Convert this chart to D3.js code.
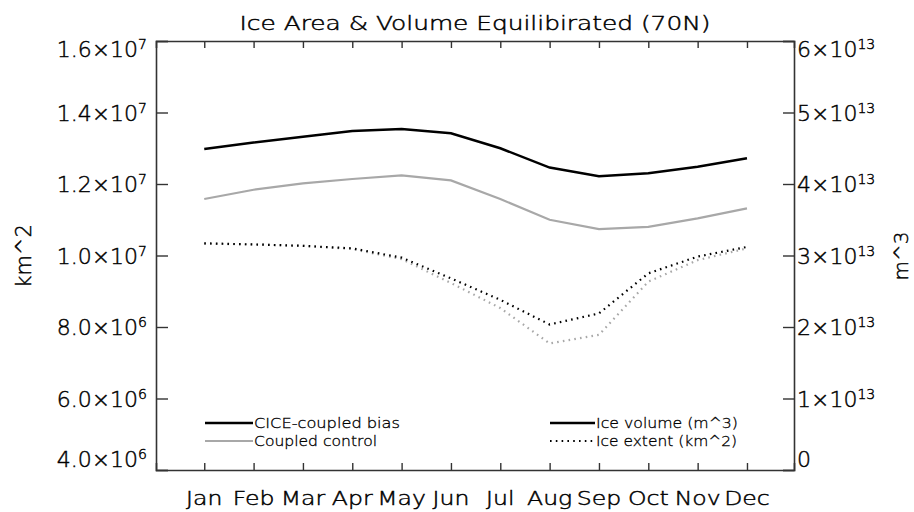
<!DOCTYPE html>
<html><head><meta charset="utf-8">
<script src="https://cdn.jsdelivr.net/npm/d3@7/dist/d3.min.js"></script>
<style>body{margin:0;background:#fff}text{font-family:"DejaVu Sans",sans-serif;font-weight:200;fill:#000;stroke:#000;stroke-width:0.45}</style>
</head><body>
<svg id="c" width="914" height="512"></svg>
<script>
// ---------- data ----------
const months = ["Jan","Feb","Mar","Apr","May","Jun","Jul","Aug","Sep","Oct","Nov","Dec"];
// Ice volume (m^3), right axis
const volumeBias    = [4.49e13,4.58e13,4.66e13,4.74e13,4.77e13,4.71e13,4.50e13,4.23e13,4.11e13,4.15e13,4.24e13,4.36e13];
const volumeControl = [3.79e13,3.92e13,4.01e13,4.07e13,4.12e13,4.05e13,3.79e13,3.50e13,3.37e13,3.40e13,3.52e13,3.66e13];
// Ice extent (km^2), left axis
const extentBias    = [1.034e7,1.031e7,1.027e7,1.020e7,0.994e7,0.936e7,0.876e7,0.807e7,0.838e7,0.950e7,0.997e7,1.024e7];
const extentControl = [1.033e7,1.031e7,1.027e7,1.018e7,0.990e7,0.923e7,0.853e7,0.754e7,0.778e7,0.927e7,0.987e7,1.020e7];
const leftTicks  = [4e6,6e6,8e6,1e7,1.2e7,1.4e7,1.6e7];
const leftTickLabels = [["4.0","6"],["6.0","6"],["8.0","6"],["1.0","7"],["1.2","7"],["1.4","7"],["1.6","7"]];
const rightTicks = [0,1e13,2e13,3e13,4e13,5e13,6e13];
const rightTickLabels = [["0",""],["1","13"],["2","13"],["3","13"],["4","13"],["5","13"],["6","13"]];
const seriesNames = ["CICE-coupled bias","Coupled control"];
const styleNames = ["Ice volume (m^3)","Ice extent (km^2)"];

// ---------- layout ----------
const L=156, R=794, T=41, B=470;
const svg=d3.select("#c");
const x=d3.scaleLinear().domain([-0.978,11.953]).range([L,R]);
const yL=d3.scaleLinear().domain([4e6,1.6e7]).range([B,T]);
const yR=d3.scaleLinear().domain([0,6e13]).range([B,T]);
const axisColor="#333";

function stretchTo(sel,w){ sel.attr("textLength",w).attr("lengthAdjust","spacingAndGlyphs"); }
function stretchBy(sel,f){ sel.each(function(){ const n=this.getComputedTextLength(); d3.select(this).attr("textLength",n*f).attr("lengthAdjust","spacingAndGlyphs"); }); }

// title
const title=svg.append("text").attr("x",(L+R)/2).attr("y",30).attr("text-anchor","middle")
  .attr("font-size",19).text("Ice Area & Volume Equilibirated (70N)");
stretchTo(title,471);

// axes
const idx=d3.range(12);
const gB=svg.append("g").attr("transform",`translate(0,${B})`)
  .call(d3.axisBottom(x).tickValues(idx).tickSize(-7).tickFormat(""));
const gT=svg.append("g").attr("transform",`translate(0,${T})`)
  .call(d3.axisTop(x).tickValues(idx).tickSize(-7).tickFormat(""));
const gL=svg.append("g").attr("transform",`translate(${L},0)`)
  .call(d3.axisLeft(yL).tickValues(leftTicks).tickSize(-12).tickFormat(""));
const gR=svg.append("g").attr("transform",`translate(${R},0)`)
  .call(d3.axisRight(yR).tickValues(rightTicks).tickSize(-11).tickFormat(""));
[gB,gT,gL,gR].forEach(g=>{
  g.selectAll("path.domain").attr("stroke",axisColor).attr("stroke-width",1.6);
  g.selectAll(".tick line").attr("stroke",axisColor).attr("stroke-width",1.4);
});

// month labels
const mon=svg.selectAll("text.mon").data(months).join("text").attr("class","mon")
  .attr("x",(d,i)=>x(i)).attr("y",505).attr("text-anchor","middle")
  .attr("font-size",19).text(d=>d);
stretchBy(mon,1.24);

function offs(i,n){ return i===0?-3:(i===n-1?16:8); }
// left tick labels
leftTicks.forEach((v,i)=>{
  const t=svg.append("text").attr("x",147).attr("y",yL(v)+offs(i,leftTicks.length))
    .attr("text-anchor","end").attr("font-size",22);
  t.append("tspan").text(leftTickLabels[i][0]+"\u00d710");
  t.append("tspan").attr("dy",-8).attr("font-size",14).text(leftTickLabels[i][1]);
});
// right tick labels
rightTicks.forEach((v,i)=>{
  const t=svg.append("text").attr("x",797).attr("y",yR(v)+offs(i,rightTicks.length))
    .attr("text-anchor","start").attr("font-size",22);
  if(rightTickLabels[i][1]===""){ t.text(rightTickLabels[i][0]); }
  else{
    t.append("tspan").text(rightTickLabels[i][0]+"\u00d710");
    t.append("tspan").attr("dy",-8).attr("font-size",14).text(rightTickLabels[i][1]);
  }
});

// axis titles
svg.append("text").attr("transform","translate(31,256) rotate(-90)")
  .attr("text-anchor","middle").attr("font-size",21).text("km^2");
svg.append("text").attr("transform","translate(908,256) rotate(-90)")
  .attr("text-anchor","middle").attr("font-size",20).text("m^3");

// lines
const lineR=d3.line().x((d,i)=>x(i)).y(d=>yR(d));
const lineL=d3.line().x((d,i)=>x(i)).y(d=>yL(d));
const black="#000", gray="#a8a8a8";
svg.append("path").datum(extentControl).attr("d",lineL).attr("fill","none")
  .attr("stroke",gray).attr("stroke-width",2.2).attr("stroke-dasharray","1.6,4.2");
svg.append("path").datum(extentBias).attr("d",lineL).attr("fill","none")
  .attr("stroke",black).attr("stroke-width",2.2).attr("stroke-dasharray","1.6,4.2");
svg.append("path").datum(volumeControl).attr("d",lineR).attr("fill","none")
  .attr("stroke",gray).attr("stroke-width",2.2);
svg.append("path").datum(volumeBias).attr("d",lineR).attr("fill","none")
  .attr("stroke",black).attr("stroke-width",2.5);

// legends
const lg=[[black,2.5],[gray,2.2]];
const leftW=[146,123], rightW=[142,141];
seriesNames.forEach((n,i)=>{
  const yy=423+i*18;
  svg.append("line").attr("x1",205).attr("x2",253).attr("y1",yy).attr("y2",yy)
    .attr("stroke",lg[i][0]).attr("stroke-width",lg[i][1]);
  const t=svg.append("text").attr("x",254).attr("y",yy+5).attr("font-size",14)
    .style("stroke-width",0.3).text(n);
  stretchTo(t,leftW[i]);
});
styleNames.forEach((n,i)=>{
  const yy=423+i*18;
  svg.append("line").attr("x1",550).attr("x2",595).attr("y1",yy).attr("y2",yy)
    .attr("stroke",black).attr("stroke-width",i?2:2.5).attr("stroke-dasharray",i?"1.6,4.2":null);
  const t=svg.append("text").attr("x",596).attr("y",yy+5).attr("font-size",14)
    .style("stroke-width",0.3).text(n);
  stretchTo(t,rightW[i]);
});
</script></body></html>
